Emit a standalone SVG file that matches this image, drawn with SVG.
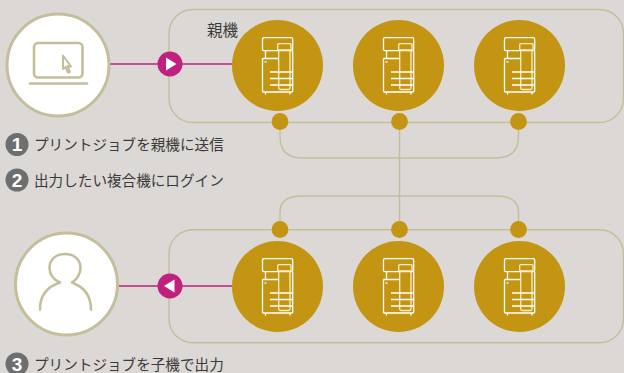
<svg xmlns="http://www.w3.org/2000/svg" width="624" height="373" viewBox="0 0 624 373">
<style>
.frame{fill:none;stroke:#c4bf9a;stroke-width:1.4}
.link{fill:none;stroke:#c4bf9a;stroke-width:1.4}
.mag{stroke:#c0217f;stroke-width:1.5;fill:none}
.dot{fill:#c39513}
.mfp{fill:#c39513}
.ic{fill:none;stroke:#fff;stroke-width:1.3;stroke-linejoin:round}
.ic2{fill:none;stroke:#fbeec4;stroke-width:1.3}
.white{fill:#fff;stroke:#c4bf9a;stroke-width:3}
.gl{fill:none;stroke:#c4bf9a;stroke-width:2.6;stroke-linecap:round;stroke-linejoin:round}
.t{font-family:"Noto Sans CJK JP","Noto Sans",sans-serif;font-size:14.6px;font-weight:400;fill:#3c3a38}
.num{font-family:"Liberation Sans",sans-serif;font-size:19px;font-weight:bold;fill:#fff;text-anchor:middle}
.badge{fill:#6d6e70}
</style>
<defs>
<g id="printer">
<rect class="ic" x="-15" y="-27.800" width="30.200" height="13" rx="1.500"/>
<path class="ic" d="M-12-14.800V-7M-15-7H0.500M-15-7V25.500Q-15 26.500-14 26.500H14Q15.200 26.500 15.200 25.500V-14.800M-12 26.500V29M12.500 26.500V29"/>
<rect class="ic2" x="0.200" y="-21.800" width="13.300" height="6.300" rx="1"/>
<path class="ic2" d="M1.200-15.500V22.500Q1.200 24 2.700 24H11Q12.500 24 12.500 22.500V-15.500"/>
<path class="ic" d="M-7.500 6.500H15.200M-7.500 13H15.200M-7.500 19.500H15.200"/>
<path class="ic" d="M-13 -3.500H-11"/>
</g>
</defs>
<rect width="624" height="373" fill="#dbd8d5"/>
<g id="connectors">
<rect class="frame" x="169" y="9.500" width="454.500" height="113" rx="24"/>
<rect class="frame" x="169" y="229.800" width="454.500" height="113" rx="24"/>
<path class="link" d="M280 122V136Q280 158 302 158H496Q518.500 158 518.500 136V122"/>
<path class="link" d="M280 229.500V212Q280 196 302 196H496Q518.500 196 518.500 212V229.500"/>
<path class="link" d="M399.500 122V229.500"/>
<path class="mag" d="M110 64H232"/>
<path class="mag" d="M119 286H232"/>
</g>
<g id="pc">
<circle class="white" cx="58" cy="65" r="51"/>
<rect class="gl" x="34" y="43" width="48.500" height="34.500" rx="4"/>
<path class="gl" d="M30 83.500H87"/>
<path d="M63 55.500L71 66.500L67.500 66L70 72L68 72.500L65.500 67L63 69Z" fill="none" stroke="#c4bf9a" stroke-width="2" stroke-linejoin="round"/>
</g>
<g id="user">
<circle class="white" cx="66.500" cy="284" r="51"/>
<path class="gl" d="M40 309.500C40 296 46 287 60 282.500C53 279.500 49.500 273.500 49.500 268C49.500 259 56.500 254 65 254C73.500 254 80.500 259 80.500 268C80.500 273.500 77 279.500 72 282.500C84 287 91 296 91 309.500"/>
</g>
<g id="label-parent"><text class="t" x="207" y="35.500" style="font-size:15.500px">親機</text></g>
<g id="arrow-send">
<circle cx="170" cy="64" r="12.500" fill="#c0217f"/>
<path d="M166 57.500L176.500 64L166 70.500Z" fill="#fff"/>
</g>
<g id="arrow-out">
<circle cx="170" cy="286" r="12.500" fill="#c0217f"/>
<path d="M174.500 279.500L164 286L174.500 292.500Z" fill="#fff"/>
</g>
<g id="mfp-p1"><circle class="mfp" cx="277.500" cy="65.500" r="45.500"/><use href="#printer" x="277.500" y="65.500"/></g>
<g id="mfp-p2"><circle class="mfp" cx="398.500" cy="65.500" r="45.500"/><use href="#printer" x="398.500" y="65.500"/></g>
<g id="mfp-p3"><circle class="mfp" cx="519.500" cy="65.500" r="45.500"/><use href="#printer" x="519.500" y="65.500"/></g>
<g id="mfp-c1"><circle class="mfp" cx="277.500" cy="286.500" r="45.500"/><use href="#printer" x="277.500" y="286.500"/></g>
<g id="mfp-c2"><circle class="mfp" cx="398.500" cy="286.500" r="45.500"/><use href="#printer" x="398.500" y="286.500"/></g>
<g id="mfp-c3"><circle class="mfp" cx="519.500" cy="286.500" r="45.500"/><use href="#printer" x="519.500" y="286.500"/></g>
<g id="dots">
<circle class="dot" cx="280" cy="121.500" r="8.400"/><circle class="dot" cx="399.500" cy="121.500" r="8.400"/><circle class="dot" cx="518.500" cy="121.500" r="8.400"/>
<circle class="dot" cx="280" cy="229.500" r="8.400"/><circle class="dot" cx="399.500" cy="229.500" r="8.400"/><circle class="dot" cx="518.500" cy="229.500" r="8.400"/>
</g>
<g id="step1"><circle class="badge" cx="17" cy="144.500" r="11.500"/><text class="num" x="17" y="151">1</text><text class="t" x="34" y="150">プリントジョブを親機に送信</text></g>
<g id="step2"><circle class="badge" cx="17" cy="180" r="11.500"/><text class="num" x="17" y="186.500">2</text><text class="t" x="34" y="186">出力したい複合機にログイン</text></g>
<g id="step3"><circle class="badge" cx="17" cy="364" r="11.500"/><text class="num" x="17" y="370.500">3</text><text class="t" x="34" y="369.500">プリントジョブを子機で出力</text></g>
</svg>
